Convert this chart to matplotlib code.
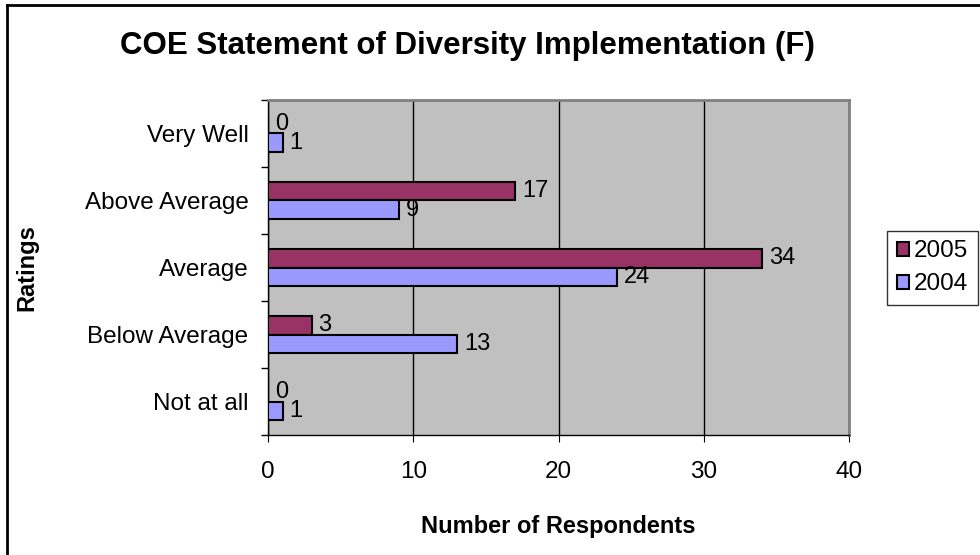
import numpy as np
import matplotlib.pyplot as plt
from matplotlib.lines import Line2D

plt.rcParams['font.family'] = ['Liberation Sans', 'DejaVu Sans']

ratings = ['Not at all', 'Below Average', 'Average', 'Above Average', 'Very Well']
resp_2005 = [0, 3, 34, 17, 0]
resp_2004 = [1, 13, 24, 9, 1]

fig = plt.figure(figsize=(9.8, 5.55), dpi=100)
ax = fig.add_axes([268/980, 1-435/555, 581/980, 335/555])
ax.set_facecolor('#C0C0C0')

y = np.arange(len(ratings))
h = 0.28
b05 = ax.barh(y + h/2, resp_2005, height=h, color='#993366', edgecolor='black', linewidth=1.5, label='2005', zorder=3)
b04 = ax.barh(y - h/2, resp_2004, height=h, color='#9999FF', edgecolor='black', linewidth=1.5, label='2004', zorder=3)

for bars, vals in ((b05, resp_2005), (b04, resp_2004)):
    for r, v in zip(bars, vals):
        ax.annotate(str(v), (v, r.get_y() + r.get_height()/2), xytext=(5, 0),
                    textcoords='offset points', va='center', ha='left', fontsize=17)

ax.set_xlim(0, 40)
ax.set_ylim(-0.5, 4.5)
ax.set_xticks([0, 10, 20, 30, 40])
ax.xaxis.grid(True, color='black', linewidth=1, zorder=1)
ax.set_axisbelow(True)
ax.set_yticks(y)
ax.set_yticklabels(ratings, fontsize=17.5)
ax.tick_params(axis='y', length=0, pad=14)
ax.set_yticks(np.arange(-0.5, 5, 1), minor=True)
ax.tick_params(axis='y', which='minor', length=5, direction='out', width=1)
ax.tick_params(axis='x', length=5, direction='out', labelsize=17.5, pad=14)

for side in ('top', 'right'):
    ax.spines[side].set_color('#808080')
    ax.spines[side].set_linewidth(2)
for side in ('left', 'bottom'):
    ax.spines[side].set_color('black')
    ax.spines[side].set_linewidth(1)

ax.set_xlabel('Number of Respondents', fontsize=17, fontweight='bold')
ax.xaxis.set_label_coords(0.5, -(515-435)/335)
ax.set_ylabel('Ratings', fontsize=17, fontweight='bold')
ax.yaxis.set_label_coords(-(268-38)/581, 0.5)

fig.text(467/980, 1-46/555, 'COE Statement of Diversity Implementation (F)',
         ha='center', va='center', fontsize=22.5, fontweight='bold')

leg = fig.legend(handles=[b05, b04], loc='lower left', bbox_to_anchor=(887/980, 1-305/555),
                 frameon=True, fancybox=False, fontsize=17.5, handlelength=0.5, handleheight=0.5,
                 handletextpad=0.2, borderpad=0.4, labelspacing=0.45, borderaxespad=0)
leg.get_frame().set_edgecolor('black')
leg.get_frame().set_linewidth(1)

# chart border along top and left
fig.add_artist(Line2D([7/980, 7/980], [0, 1-5/555], color='black', linewidth=2))
fig.add_artist(Line2D([7/980, 1], [1-5/555, 1-5/555], color='black', linewidth=2))

fig.savefig('out.png', dpi=100)
